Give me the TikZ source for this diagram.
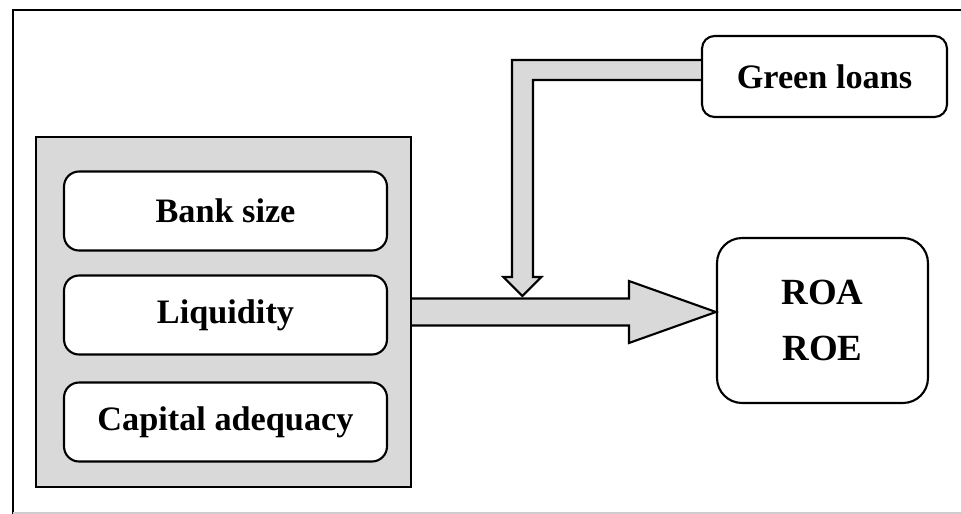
\documentclass[tikz,border=0pt]{standalone}
\usepackage{fontspec}
\setmainfont{Liberation Serif}
\usepackage{tikz}
\usetikzlibrary{calc}
\definecolor{boxgray}{gray}{0.85}
\tikzstyle{group}=[draw, fill=boxgray, line width=1.2pt, minimum width=7.5cm, minimum height=7cm]
\tikzstyle{factor}=[draw, fill=white, rounded corners=0.3cm, line width=1.2pt, minimum width=6.46cm, minimum height=1.58cm, font=\fontsize{19.5}{22}\selectfont\bfseries]
\tikzstyle{outcome}=[draw, fill=white, rounded corners=0.5cm, line width=1.2pt, minimum width=4.22cm, minimum height=3.3cm, align=center, font=\fontsize{21}{32}\selectfont\bfseries]
\tikzstyle{blockarrow}=[fill=boxgray, draw, line width=1.2pt, line join=miter]
\begin{document}
\begin{tikzpicture}[x=0.02cm, y=-0.02cm]
 \useasboundingbox (0,0) rectangle (961,514);
 \draw[line width=0.8pt] (961,10) -- (13,10) -- (13,514);
 \draw[gray!40, line width=0.6pt] (13,513) -- (961,513);
%
 \node[group] (grp) at (223.5,312) {};
 \node[factor] (size) at (225.5,211) {Bank size};
 \node[factor] (liq) at (225.5,315) {Liquidity};
 \node[factor] (cap) at (225.5,422) {Capital adequacy};
%
 \node[factor, minimum width=4.9cm, minimum height=1.62cm, rounded corners=0.25cm] (green) at (824.5,76.5) {Green loans};
 \node[outcome] (roa) at (822.5,320.5) {ROA\\ROE};
%
 \coordinate (tip) at (grp.east -| roa.west);
 \filldraw[blockarrow] ($(grp.east)+(0,-13.5)$) -- ($(tip)+(-87,-13.5)$) -- ($(tip)+(-87,-31)$) -- (tip)
  -- ($(tip)+(-87,31)$) -- ($(tip)+(-87,13.5)$) -- ($(grp.east)+(0,13.5)$);
%
 \coordinate (knee) at ($(green.west)+(-178.5,-6.5)$);
 \coordinate (drop) at ($(knee |- tip)+(0,-16)$);
 \filldraw[blockarrow] ($(green.west)+(0,-16.5)$) -- ($(knee)+(-10.5,-10)$) -- ($(drop)+(-10.5,-19)$) -- ($(drop)+(-19,-19)$)
  -- (drop) -- ($(drop)+(19,-19)$) -- ($(drop)+(10.5,-19)$) -- ($(knee)+(10.5,10)$) -- ($(green.west)+(0,3.5)$);
\end{tikzpicture}
\end{document}
